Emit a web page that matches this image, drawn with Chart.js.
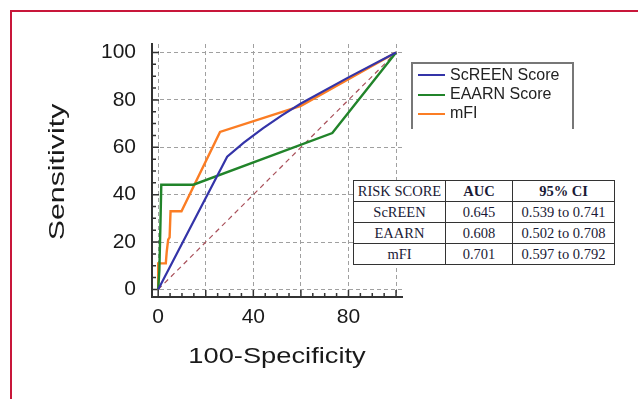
<!DOCTYPE html>
<html>
<head>
<meta charset="utf-8">
<script src="https://cdn.jsdelivr.net/npm/chart.js@4.4.1/dist/chart.umd.min.js"></script>
<style>
  body { margin: 0; background: #fff; width: 638px; height: 399px; overflow: hidden; position: relative; }
  #frame { position: absolute; left: 10px; top: 10px; width: 700px; height: 500px; border: 2px solid #c8173a; }
  #roc { position: absolute; left: 0; top: 0; }
  #legend { position: absolute; left: 411px; top: 62px; width: 159px; height: 65px; border: 2px solid #777; border-bottom: none;
            font: 16px "Liberation Sans", Arial, sans-serif; color: #222; }
  .item { position: absolute; left: 5px; height: 19px; line-height: 19px; white-space: nowrap; }
  .item i { display: inline-block; width: 27px; height: 2px; vertical-align: middle; margin-right: 5px; }
  #auc { position: absolute; left: 353px; top: 180px; border-collapse: collapse; background: #fff;
         font: 14.5px "Liberation Serif", serif; color: #1a1a36; }
  #auc td { border: 1.5px solid #333; text-align: center; padding: 0; height: 20px; }
</style>
</head>
<body>
<div id="frame"></div>
<canvas id="roc" width="638" height="399"></canvas>
<div id="legend"></div>
<table id="auc"></table>
<script>
// ROC curves (x = 100-Specificity, y = Sensitivity)
const screenX = [0, 29, 36, 44, 52, 60, 80, 100];
const screenY = [0, 56, 62, 68, 73.5, 78.5, 89.5, 100];
const eaarnX = [0, 0.5, 1, 1.3, 14.8, 73.2, 100];
const eaarnY = [0, 8, 30, 44.2, 44.2, 66, 100];
const mfiX = [0, 0, 3.2, 3.6, 4.2, 4.8, 5.2, 9.8, 26, 60, 100];
const mfiY = [0, 11, 11, 16, 21, 22, 33, 33, 66.5, 77.5, 100];
const refX = [0, 100];
const refY = [0, 100];

const seriesNames = ['ScREEN Score', 'EAARN Score', 'mFI'];
const seriesColors = ['#3434a8', '#21842a', '#fb7d24'];

const xTicks = [0, 40, 80];
const yTicks = [0, 20, 40, 60, 80, 100];

// AUC table
const tableHead = ['RISK SCORE', 'AUC', '95% CI'];
const riskScores = ['ScREEN', 'EAARN', 'mFI'];
const aucValues = ['0.645', '0.608', '0.701'];
const ciValues = ['0.539 to 0.741', '0.502 to 0.708', '0.597 to 0.792'];

const pts = (xs, ys) => xs.map((x, i) => ({ x, y: ys[i] }));

// short tick marks drawn inside the axes, longer at every 20
const innerTicks = {
  id: 'innerTicks',
  beforeDatasetsDraw(chart) {
    const { ctx, chartArea, scales: { x, y } } = chart;
    ctx.save();
    ctx.strokeStyle = '#333';
    ctx.lineWidth = 1.5;
    ctx.beginPath();
    x.ticks.forEach(t => {
      const px = x.getPixelForValue(t.value);
      const len = t.value % 20 === 0 ? 7 : 4;
      ctx.moveTo(px, chartArea.bottom);
      ctx.lineTo(px, chartArea.bottom - len);
    });
    y.ticks.forEach(t => {
      const py = y.getPixelForValue(t.value);
      const len = t.value % 20 === 0 ? 7 : 4;
      ctx.moveTo(chartArea.left, py);
      ctx.lineTo(chartArea.left + len, py);
    });
    ctx.stroke();
    ctx.restore();
  }
};

// the axis titles in the original are stretched along their length
const stretchTitles = {
  id: 'stretchTitles',
  beforeDraw(chart) {
    Object.values(chart.scales).forEach(scale => {
      if (scale._stretched) return;
      const base = scale.drawTitle;
      const k = scale.isHorizontal() ? 1.24 : 1.38;
      scale.drawTitle = function () {
        const ctx = this.ctx;
        ctx.save();
        if (this.isHorizontal()) {
          const cx = (this.left + this.right) / 2;
          ctx.translate(cx, 0); ctx.scale(k, 1); ctx.translate(-cx, 0);
        } else {
          const cy = (this.top + this.bottom) / 2 - 4;
          ctx.translate(0, cy); ctx.scale(1, k); ctx.translate(0, -cy);
        }
        base.call(this);
        ctx.restore();
      };
      scale._stretched = true;
    });
  }
};

const tickFont = { family: 'Liberation Sans', size: 21 };
const titleFont = { family: 'Liberation Sans', size: 22 };
const gridColor = c => (c.tick && c.tick.value % 20 === 0 ? '#a0a0a0' : 'rgba(0,0,0,0)');

new Chart(document.getElementById('roc'), {
  type: 'line',
  data: {
    datasets: [
      { label: seriesNames[0], data: pts(screenX, screenY), borderColor: seriesColors[0], borderWidth: 2.2 },
      { label: seriesNames[1], data: pts(eaarnX, eaarnY), borderColor: seriesColors[1], borderWidth: 2.4 },
      { label: seriesNames[2], data: pts(mfiX, mfiY), borderColor: seriesColors[2], borderWidth: 2.4 },
      { label: 'reference', data: pts(refX, refY), borderColor: '#a9505a', borderWidth: 1.2, borderDash: [5, 4] }
    ]
  },
  options: {
    responsive: false,
    animation: false,
    layout: { padding: { top: 44, right: 236, bottom: 0, left: 0 } },
    elements: { point: { radius: 0 }, line: { tension: 0, fill: false } },
    plugins: { legend: { display: false }, tooltip: { enabled: false } },
    scales: {
      x: {
        type: 'linear',
        min: -2.6,
        max: 102.5,
        afterFit: s => { s.height = 102; },
        ticks: {
          stepSize: 5, includeBounds: false, autoSkip: false, maxRotation: 0,
          padding: 8, color: '#1a1a1a', font: tickFont,
          callback: v => (xTicks.includes(v) ? String(v) : '')
        },
        grid: { drawTicks: false, color: gridColor, lineWidth: 1 },
        border: { display: true, color: '#333', width: 2, dash: [4, 3] },
        title: { display: true, text: '100-Specificity', color: '#1a1a1a', font: titleFont, padding: { top: 0, bottom: 29 } }
      },
      y: {
        type: 'linear',
        min: -3.2,
        max: 103.6,
        afterFit: s => { s.width = 152; },
        ticks: {
          stepSize: 5, includeBounds: false, autoSkip: false,
          padding: 16, color: '#1a1a1a', font: tickFont,
          callback: v => (yTicks.includes(v) ? String(v) : '')
        },
        grid: { drawTicks: false, color: gridColor, lineWidth: 1 },
        border: { display: true, color: '#333', width: 2, dash: [4, 3] },
        title: { display: true, text: 'Sensitivity', color: '#1a1a1a', font: titleFont, padding: { top: 45, bottom: 0 } }
      }
    }
  },
  plugins: [innerTicks, stretchTitles]
});

// legend
const legend = document.getElementById('legend');
seriesNames.forEach((name, i) => {
  const row = document.createElement('div');
  row.className = 'item';
  row.style.top = (0.5 + i * 19.3) + 'px';
  row.innerHTML = `<i style="background:${seriesColors[i]}"></i>${name}`;
  legend.appendChild(row);
});

// AUC table
const table = document.getElementById('auc');
const colWidths = [91, 66, 101];
const head = document.createElement('tr');
head.innerHTML = tableHead.map((h, i) =>
  `<td style="width:${colWidths[i]}px;${i ? 'font-weight:bold' : ''}">${h}</td>`).join('');
table.appendChild(head);
riskScores.forEach((r, i) => {
  const row = document.createElement('tr');
  row.innerHTML = `<td>${r}</td><td>${aucValues[i]}</td><td>${ciValues[i]}</td>`;
  table.appendChild(row);
});
</script>
</body>
</html>
